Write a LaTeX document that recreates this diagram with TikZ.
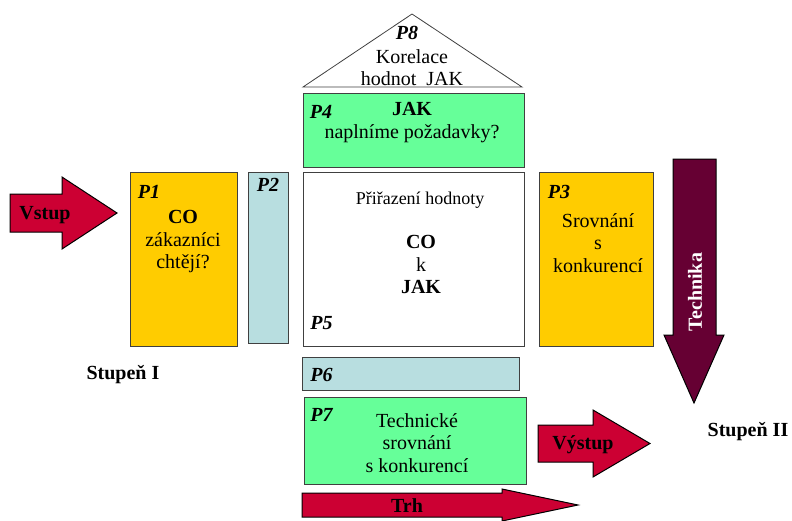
\documentclass[tikz,border=0pt]{standalone}
\usepackage{fontspec}
\setmainfont{Liberation Serif}
\definecolor{gold}{HTML}{FFCC00}
\definecolor{paleblue}{HTML}{B8DEE0}
\definecolor{mint}{HTML}{66FF99}
\definecolor{crimson}{HTML}{CC0033}
\definecolor{wine}{HTML}{660033}

\begin{document}
\begin{tikzpicture}[x=1pt,y=-1pt,font=\fontsize{20}{22.5}\selectfont,
  box/.style={draw=black!75,line width=0.8pt,inner sep=0pt},
  txt/.style={align=center,inner sep=0pt},
  plbl/.style={inner sep=0pt,font=\fontsize{20}{22.5}\selectfont\bfseries\itshape},
  blk/.style={draw=black,line width=1pt,fill=crimson},
  blbl/.style={inner sep=0pt,font=\fontsize{20}{22.5}\selectfont\bfseries}]

\useasboundingbox (0,0) rectangle (792,520);

\node[box,fill=gold,minimum width=107pt,minimum height=174pt](p1) at (183.5,259){};
\node[box,fill=paleblue,minimum width=40pt,minimum height=171pt](p2) at (268,257.5){};
\node[box,fill=mint,minimum width=221pt,minimum height=74pt](p4) at (413.5,130){};
\node[box,fill=white,minimum width=221pt,minimum height=174pt](p5) at (413.5,259){};
\node[box,fill=paleblue,minimum width=217pt,minimum height=33pt](p6) at (410.5,373.5){};
\node[box,fill=mint,minimum width=222pt,minimum height=87pt](p7) at (415,440.5){};
\node[box,fill=gold,minimum width=114pt,minimum height=174pt](p3) at (596,259){};
\draw[draw=black!75,line width=0.8pt,fill=white](303,87)--(412,14)--(522,87)--cycle;

\draw[blk](10,194)--(62,194)--(62,177)--(117,213)--(62,249)--(62,232)--(10,232)--cycle;
\draw[blk](538,425)--(593,425)--(593,410)--(650,443.5)--(593,477)--(593,462)--(538,462)--cycle;
\draw[blk](302,493)--(502,493)--(502,489)--(578,505)--(502,521)--(502,517)--(302,517)--cycle;
\draw[blk,fill=wine](673,159)--(716,159)--(716,335)--(724,335)--(694,403)--(664,335)--(673,335)--cycle;

\node[blbl](vstup) at (45,215){Vstup};
\node[blbl](vystup) at (583,445){Výstup};
\node[blbl](trh) at (407,506){Trh};
\node[blbl,text=white,rotate=90](technika) at (695,292){Technika};

\node[plbl](l1) at (149,192){P1};
\node[plbl](l2) at (268,185){P2};
\node[plbl](l3) at (559,192){P3};
\node[plbl](l4) at (321,112){P4};
\node[plbl](l5) at (321.5,323){P5};
\node[plbl](l6) at (321.5,375){P6};
\node[plbl](l7) at (321.5,415){P7};
\node[plbl](l8) at (407,33){P8};

\node[txt](t1) at (183,242){\textbf{CO}\\zákazníci\\chtějí?};
\node[txt](t3) at (598,243){Srovnání\\s\\konkurencí};
\node[txt](t4) at (412,122.5){\textbf{JAK}\\naplníme požadavky?};
\node[txt,font=\fontsize{18}{20}\selectfont](t5a) at (420,200){Přiřazení hodnoty};
\node[txt](t5) at (421,264.5){\textbf{CO}\\k\\\textbf{JAK}};
\node[txt](t7) at (417,443){Technické\\srovnání\\s konkurencí};
\node[txt](t8) at (412,67.5){Korelace\\hodnot\ \ JAK};

\node[blbl](st1) at (123,375){Stupeň I};
\node[blbl](st2) at (748,432){Stupeň II};
\end{tikzpicture}
\end{document}
